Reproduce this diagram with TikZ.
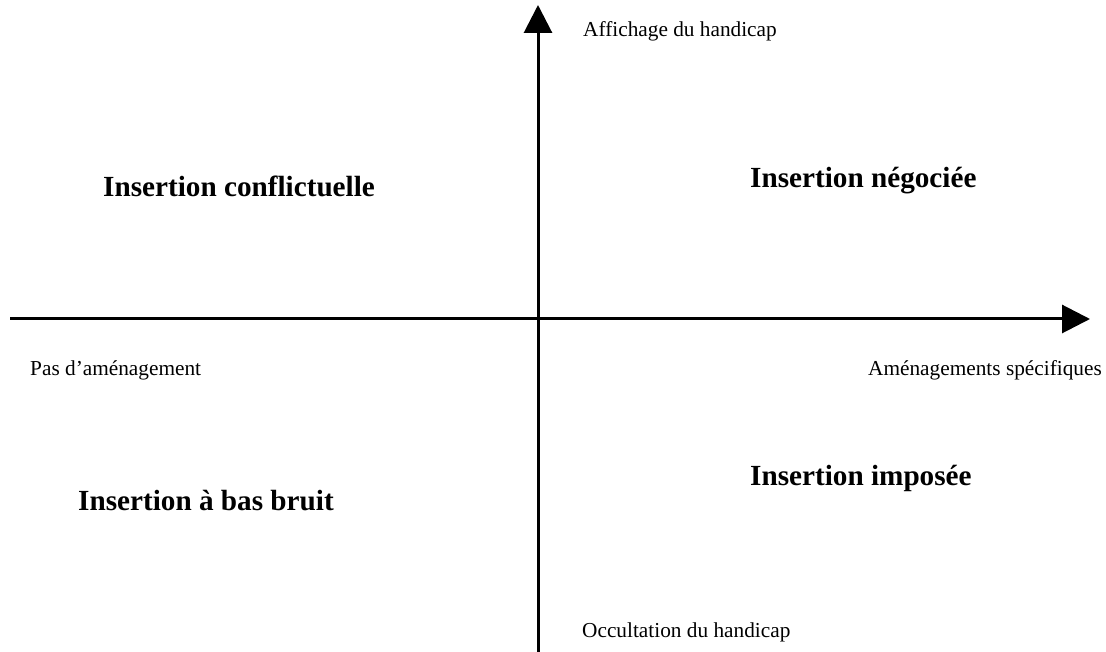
\documentclass[tikz,border=0pt]{standalone}
\usepackage{fontspec}
\setmainfont{Liberation Serif}
\usepackage{tikz}
\usetikzlibrary{arrows.meta}
\tikzset{
    axis/.style={line width=3pt, -{Triangle[length=28pt,width=28pt]}},
    poleLabel/.style={font=\fontsize{21.3}{25}\selectfont, inner sep=0pt},
    quadrant/.style={font=\fontsize{29.2}{34}\selectfont\bfseries, inner sep=0pt}
}

\begin{document}
\begin{tikzpicture}[x=1pt,y=-1pt]
          \useasboundingbox (0,0) rectangle (1106,652);
          % axes
          \coordinate (left) at (10,319);
          \coordinate (right) at (1090,319);
          \coordinate (bottom) at (538,652);
          \coordinate (top) at (538,5);
          \draw[axis] (left) -- (right);
          \draw[axis] (bottom) -- (top);
          % pole labels
          \node[poleLabel, anchor=base west] (affichage) at (583,37) {Affichage du handicap};
          \node[poleLabel, anchor=base west] (occultation) at (582,637) {Occultation du handicap};
          \node[poleLabel, anchor=base west] (pasAmen) at (30,375) {Pas d’aménagement};
          \node[poleLabel, anchor=base east] (amenSpec) at (1102,375) {Aménagements spécifiques};
          % quadrants
          \node[quadrant, anchor=base west] (conflict) at (103,197) {Insertion conflictuelle};
          \node[quadrant, anchor=base west] (negoc) at (750,188) {Insertion négociée};
          \node[quadrant, anchor=base west] (bruit) at (78,510) {Insertion à bas bruit};
          \node[quadrant, anchor=base west] (impose) at (750,485) {Insertion imposée};
\end{tikzpicture}
\end{document}
